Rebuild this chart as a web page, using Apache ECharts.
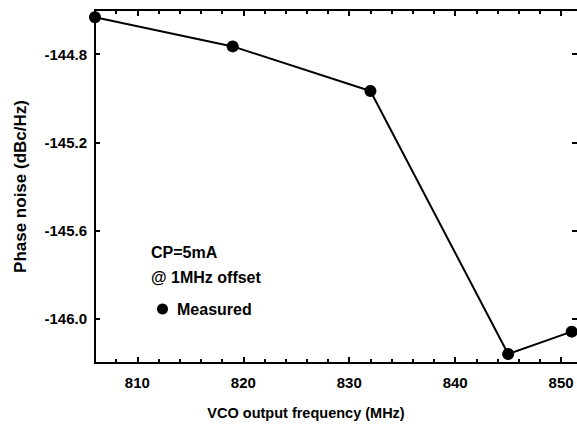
<!DOCTYPE html>
<html>
<head>
<meta charset="utf-8">
<script src="https://cdn.jsdelivr.net/npm/echarts@6/dist/echarts.min.js"></script>
<style>
  html, body { margin: 0; padding: 0; background: #fff; }
  #chart { width: 577px; height: 426px; }
</style>
</head>
<body>
<div id="chart"></div>
<script>
(function() {
  // measured data
  var freqs = [806, 819, 832, 845, 851];
  var phaseNoise = [-144.633, -144.765, -144.967, -146.159, -146.058];

  // tick values
  var xMajor = [810, 820, 830, 840, 850];
  var xMinor = [806, 808, 812, 814, 816, 818, 822, 824, 826, 828, 832, 834, 836, 838, 842, 844, 846, 848];
  var yMajor = [-146.0, -145.6, -145.2, -144.8];

  var ink = '#000000';
  var font = '"Liberation Sans", Arial, Helvetica, sans-serif';

  var pts = freqs.map(function(f, i) { return [f, phaseNoise[i]]; });

  function xAx(pos, ticks, len, showLine, withLabel) {
    var ax = {
      type: 'value', position: pos, min: 806, max: 851.5,
      splitLine: { show: false },
      axisLine: { show: showLine, onZero: false, lineStyle: { color: ink, width: 2 } },
      axisTick: { show: true, inside: true, length: len, customValues: ticks, lineStyle: { color: ink, width: 2 } },
      axisLabel: { show: false }
    };
    if (withLabel) {
      ax.axisLabel = {
        show: true, customValues: xMajor, margin: 12,
        color: ink, fontFamily: font, fontWeight: 'bold', fontSize: 15
      };
      ax.name = 'VCO output frequency (MHz)';
      ax.nameLocation = 'middle';
      ax.nameGap = 42;
      ax.nameTextStyle = { color: ink, fontFamily: font, fontWeight: 'bold', fontSize: 14.5, padding: [0, 60, 0, 0] };
    }
    return ax;
  }

  function yAx(pos, showLine, withLabel) {
    var ax = {
      type: 'value', position: pos, min: -146.2, max: -144.6,
      splitLine: { show: false },
      axisLine: { show: showLine, onZero: false, lineStyle: { color: ink, width: 2 } },
      axisTick: { show: true, inside: true, length: 5, customValues: yMajor, lineStyle: { color: ink, width: 2 } },
      axisLabel: { show: false }
    };
    if (withLabel) {
      ax.axisLabel = {
        show: true, customValues: yMajor, margin: 8,
        color: ink, fontFamily: font, fontWeight: 'bold', fontSize: 15,
        formatter: function(v) { return v.toFixed(1); }
      };
      ax.name = 'Phase noise (dBc/Hz)';
      ax.nameLocation = 'middle';
      ax.nameGap = 66;
      ax.nameTextStyle = { color: ink, fontFamily: font, fontWeight: 'bold', fontSize: 17 };
    }
    return ax;
  }

  var chart = echarts.init(document.getElementById('chart'), null, { renderer: 'svg' });
  chart.setOption({
    animation: false,
    backgroundColor: '#ffffff',
    grid: { left: 95, top: 10, right: 0, bottom: 63 },
    xAxis: [
      xAx('bottom', xMajor, 6, true, true),
      xAx('bottom', xMinor, 4, false, false),
      xAx('top', xMajor, 6, true, false),
      xAx('top', xMinor, 4, false, false)
    ],
    yAxis: [
      yAx('left', true, true),
      yAx('right', false, false)
    ],
    legend: {
      left: 152, top: 296,
      icon: 'circle', itemWidth: 11, itemHeight: 11,
      data: ['Measured'],
      textStyle: { color: ink, fontFamily: font, fontWeight: 'bold', fontSize: 16, padding: [0, 0, 0, 4] }
    },
    graphic: [
      { type: 'text', left: 151, top: 244, style: { text: 'CP=5mA', fill: ink, font: 'bold 16px ' + font } },
      { type: 'text', left: 151, top: 269, style: { text: '@ 1MHz offset', fill: ink, font: 'bold 16px ' + font } }
    ],
    series: [{
      name: 'Measured',
      type: 'line',
      xAxisIndex: 0,
      yAxisIndex: 0,
      data: pts,
      clip: false,
      symbol: 'circle',
      symbolSize: 12,
      itemStyle: { color: ink },
      lineStyle: { color: ink, width: 2 }
    }]
  });
})();
</script>
</body>
</html>
